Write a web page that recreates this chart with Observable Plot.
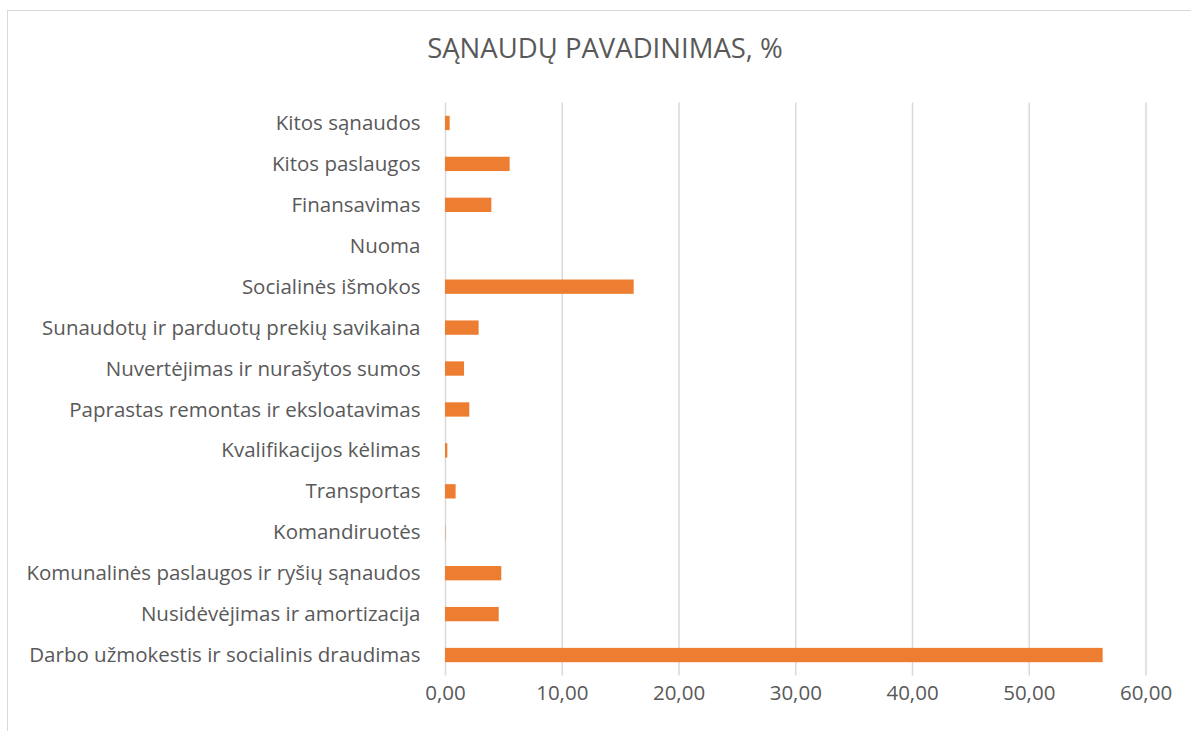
<!DOCTYPE html>
<html>
<head>
<meta charset="utf-8">
<script src="https://cdn.jsdelivr.net/npm/d3@7"></script>
<script src="https://cdn.jsdelivr.net/npm/@observablehq/plot@0.6"></script>
<style>
  html, body { margin: 0; padding: 0; background: #fff; }
  body { width: 1191px; height: 731px; overflow: hidden; position: relative; font-family: "Open Sans", sans-serif; }
  #frame { position: absolute; left: 7px; top: 10px; width: 1300px; height: 800px; border-left: 1.5px solid #d9d9d9; border-top: 1.5px solid #d9d9d9; }
  #title { position: absolute; left: 0; top: 0; width: 1210px; height: 90px; text-align: center; color: #595959; font-size: 27.5px; line-height: 1; padding-top: 34px; box-sizing: border-box; }
  #chart { position: absolute; left: 0; top: 90px; }
</style>
</head>
<body>
<div id="frame"></div>
<div id="title">SĄNAUDŲ PAVADINIMAS, %</div>
<div id="chart"></div>
<script>
const categories = [
  "Kitos sąnaudos",
  "Kitos paslaugos",
  "Finansavimas",
  "Nuoma",
  "Socialinės išmokos",
  "Sunaudotų ir parduotų prekių savikaina",
  "Nuvertėjimas ir nurašytos sumos",
  "Paprastas remontas ir eksloatavimas",
  "Kvalifikacijos kėlimas",
  "Transportas",
  "Komandiruotės",
  "Komunalinės paslaugos ir ryšių sąnaudos",
  "Nusidėvėjimas ir amortizacija",
  "Darbo užmokestis ir socialinis draudimas"
];
const values = [0.40, 5.54, 3.97, 0.00, 16.16, 2.88, 1.63, 2.08, 0.20, 0.91, 0.03, 4.82, 4.60, 56.33];
const xTicks = [0, 10, 20, 30, 40, 50, 60];

const data = categories.map((c, i) => ({category: c, value: values[i]}));
const fmt = v => d3.format(".2f")(v).replace(".", ",");

const chart = Plot.plot({
  width: 1191,
  height: 641,
  marginLeft: 445,
  marginRight: 45.5,
  marginTop: 12.5,
  marginBottom: 55.5,
  style: {fontFamily: "Open Sans, sans-serif", fontSize: "20.5px", color: "#595959", background: "transparent"},
  x: {domain: [0, 60], ticks: xTicks, tickFormat: fmt, label: null},
  y: {domain: categories, paddingInner: 0.65, paddingOuter: 0.325, round: false, label: null},
  marks: [
    Plot.gridX(xTicks, {stroke: "#d9d9d9", strokeOpacity: 1, strokeWidth: 1.5}),
    Plot.barX(data, {x: "value", y: "category", fill: "#ED7D31"}),
    Plot.axisX({ticks: xTicks, tickFormat: fmt, tickSize: 0, tickPadding: 9, label: null, fill: "#595959"}),
    Plot.axisY({tickSize: 0, tickPadding: 25, label: null, fill: "#595959"})
  ]
});
document.getElementById("chart").appendChild(chart);
</script>
</body>
</html>
